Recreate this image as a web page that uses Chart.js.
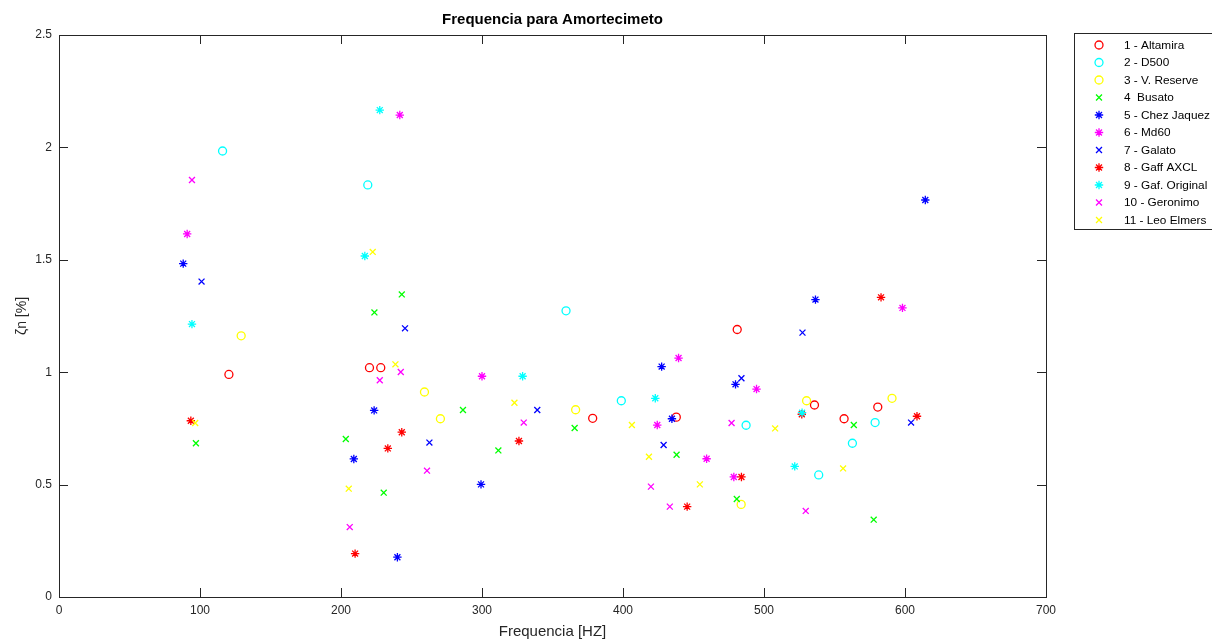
<!DOCTYPE html>
<html>
<head>
<meta charset="utf-8">
<title>Frequencia para Amortecimeto</title>
<style>
  html, body { margin: 0; padding: 0; background: #fff; }
  #wrap { position: relative; width: 1212px; height: 641px; }
</style>
<script src="https://cdn.jsdelivr.net/npm/chart.js@4.4.0/dist/chart.umd.min.js"></script>
</head>
<body>
<div id="wrap"><canvas id="chart" width="1212" height="641"></canvas></div>
<script>
// tick labels
const xTicks = [0, 100, 200, 300, 400, 500, 600, 700];
const yTicks = [0, 0.5, 1, 1.5, 2, 2.5];

// series values (frequency Hz, damping %)
const altamiraX = [120.5, 220.2, 228.2, 378.5, 437.8, 481, 535.8, 556.8, 580.7];
const altamiraY = [0.99, 1.02, 1.02, 0.795, 0.80, 1.19, 0.854, 0.793, 0.845];

const d500X = [116, 219, 359.6, 398.8, 487.3, 538.8, 562.7, 578.8];
const d500Y = [1.984, 1.833, 1.273, 0.873, 0.764, 0.543, 0.684, 0.776];

const vReserveX = [129.2, 259.2, 270.5, 366.4, 483.8, 530.2, 590.8];
const vReserveY = [1.162, 0.912, 0.793, 0.833, 0.412, 0.873, 0.884];

const busatoX = [97.1, 203.4, 223.7, 230.3, 243.1, 286.5, 311.6, 365.7, 438, 480.7, 563.7, 577.8];
const busatoY = [0.684, 0.703, 1.266, 0.464, 1.346, 0.832, 0.652, 0.752, 0.633, 0.436, 0.765, 0.344];

const chezX = [88.1, 209.1, 223.5, 240, 299.3, 427.4, 434.7, 479.8, 536.5, 614.4];
const chezY = [1.483, 0.614, 0.830, 0.177, 0.501, 1.025, 0.793, 0.946, 1.323, 1.766];

const md60X = [90.9, 241.7, 300, 424.3, 439.4, 459.3, 478.6, 494.7, 598.2];
const md60Y = [1.615, 2.144, 0.982, 0.765, 1.063, 0.615, 0.534, 0.925, 1.286];

const galatoX = [101.1, 245.4, 262.7, 339.2, 428.8, 484, 527.3, 604.3];
const galatoY = [1.403, 1.195, 0.687, 0.832, 0.676, 0.973, 1.176, 0.776];

const gaffX = [93.5, 210, 233.2, 243.1, 326.2, 445.5, 484, 526.8, 583, 608.5];
const gaffY = [0.784, 0.193, 0.661, 0.733, 0.694, 0.402, 0.534, 0.813, 1.333, 0.804];

const gafOrigX = [94.3, 216.9, 227.5, 328.8, 422.9, 521.8, 527];
const gafOrigY = [1.214, 1.517, 2.166, 0.982, 0.884, 0.581, 0.82];

const geronimoX = [94.3, 206.2, 227.5, 242.4, 261, 329.6, 419.8, 433.2, 477, 529.6];
const geronimoY = [1.855, 0.311, 0.964, 1.001, 0.562, 0.776, 0.491, 0.402, 0.774, 0.383];

const leoX = [96.6, 205.5, 222.5, 238.6, 323, 406.3, 418.4, 454.5, 507.9, 556.1];
const leoY = [0.774, 0.482, 1.535, 1.035, 0.864, 0.765, 0.624, 0.501, 0.750, 0.572];

const seriesNames = ['1 - Altamira', '2 - D500', '3 - V. Reserve', '4  Busato', '5 - Chez Jaquez',
  '6 - Md60', '7 - Galato', '8 - Gaff AXCL', '9 - Gaf. Original', '10 - Geronimo', '11 - Leo Elmers'];

const FONT = "'Liberation Sans', Arial, Helvetica, sans-serif";
const AXIS_COLOR = '#262626';

function pts(xs, ys) {
  return xs.map((v, i) => ({ x: v, y: ys[i] }));
}

function series(i, xs, ys, color, style) {
  return {
    label: seriesNames[i],
    data: pts(xs, ys),
    pointStyle: style,
    pointRadius: style === 'circle' ? 4 : 4.2,
    pointBorderWidth: style === 'circle' ? 1.3 : 1.3,
    pointBorderColor: color,
    pointBackgroundColor: 'rgba(0,0,0,0)',
    borderColor: color,
    showLine: false,
    order: 10 - i
  };
}

const datasets = [
  series(0, altamiraX, altamiraY, '#ff0000', 'circle'),
  series(1, d500X, d500Y, '#00ffff', 'circle'),
  series(2, vReserveX, vReserveY, '#ffff00', 'circle'),
  series(3, busatoX, busatoY, '#00ff00', 'crossRot'),
  series(4, chezX, chezY, '#0000ff', 'star'),
  series(5, md60X, md60Y, '#ff00ff', 'star'),
  series(6, galatoX, galatoY, '#0000ff', 'crossRot'),
  series(7, gaffX, gaffY, '#ff0000', 'star'),
  series(8, gafOrigX, gafOrigY, '#00ffff', 'star'),
  series(9, geronimoX, geronimoY, '#ff00ff', 'crossRot'),
  series(10, leoX, leoY, '#ffff00', 'crossRot')
];

// box round the axes with inward ticks on all four sides (matlab look)
const axesBox = {
  id: 'axesBox',
  beforeDatasetsDraw(chart) {
    const { ctx, chartArea: a, scales: { x, y } } = chart;
    const tl = 9;
    ctx.save();
    ctx.strokeStyle = AXIS_COLOR;
    ctx.lineWidth = 1;
    ctx.beginPath();
    xTicks.forEach(v => {
      const px = Math.round(x.getPixelForValue(v)) + 0.5;
      ctx.moveTo(px, a.bottom); ctx.lineTo(px, a.bottom - tl);
      ctx.moveTo(px, a.top); ctx.lineTo(px, a.top + tl);
    });
    yTicks.forEach(v => {
      const py = Math.round(y.getPixelForValue(v)) + 0.5;
      ctx.moveTo(a.left, py); ctx.lineTo(a.left + tl, py);
      ctx.moveTo(a.right, py); ctx.lineTo(a.right - tl, py);
    });
    ctx.stroke();
    ctx.strokeRect(Math.round(a.left) + 0.5, Math.round(a.top) + 0.5,
      Math.round(a.right - a.left), Math.round(a.bottom - a.top));
    ctx.restore();
  }
};

// legend box at the right, partly cut by the window edge
const boxLegend = {
  id: 'boxLegend',
  afterDraw(chart) {
    const ctx = chart.ctx;
    const left = 1074, top = 33, rowH = 17.5, first = 45;
    ctx.save();
    ctx.fillStyle = '#fff';
    ctx.fillRect(left, top, 160, 196);
    ctx.strokeStyle = AXIS_COLOR;
    ctx.lineWidth = 1;
    ctx.strokeRect(left + 0.5, top + 0.5, 160, 196);
    ctx.font = '11.8px ' + FONT;
    ctx.textBaseline = 'middle';
    ctx.textAlign = 'left';
    chart.data.datasets.forEach((ds, i) => {
      const cy = first + i * rowH;
      ctx.strokeStyle = ds.pointBorderColor;
      ctx.fillStyle = 'rgba(0,0,0,0)';
      ctx.lineWidth = ds.pointBorderWidth;
      Chart.helpers.drawPoint(ctx, {
        pointStyle: ds.pointStyle, radius: ds.pointRadius, rotation: 0, borderWidth: ds.pointBorderWidth
      }, 1099, cy);
      ctx.fillStyle = '#000';
      ctx.fillText(ds.label, 1124, cy + 0.5);
    });
    ctx.restore();
  }
};

new Chart(document.getElementById('chart'), {
  type: 'scatter',
  data: { datasets },
  options: {
    responsive: false,
    animation: false,
    events: [],
    layout: { padding: { left: 0, right: 166, top: 0, bottom: 0 } },
    plugins: {
      legend: { display: false },
      tooltip: { enabled: false },
      title: {
        display: true,
        fullSize: false,
        text: 'Frequencia para Amortecimeto',
        color: '#000',
        font: { family: FONT, size: 15, weight: 'bold', lineHeight: 1.2 },
        padding: { top: 11, bottom: 6 }
      }
    },
    scales: {
      x: {
        type: 'linear',
        min: 0, max: 700,
        afterBuildTicks: s => { s.ticks = xTicks.map(v => ({ value: v })); },
        afterFit: s => { s.height = 44; },
        grid: { display: false, drawTicks: false },
        border: { display: false },
        ticks: {
          padding: 6,
          maxRotation: 0,
          color: AXIS_COLOR,
          font: { family: FONT, size: 12 },
          callback: v => String(v)
        },
        title: {
          display: true,
          text: 'Frequencia [HZ]',
          color: AXIS_COLOR,
          font: { family: FONT, size: 15, lineHeight: 1.2 },
          padding: { top: 0, bottom: 0 }
        }
      },
      y: {
        type: 'linear',
        min: 0, max: 2.5,
        afterBuildTicks: s => { s.ticks = yTicks.map(v => ({ value: v })); },
        afterFit: s => { s.width = 59; },
        grid: { display: false, drawTicks: false },
        border: { display: false },
        ticks: {
          padding: 7,
          color: AXIS_COLOR,
          font: { family: FONT, size: 12 },
          callback: v => String(v)
        },
        title: {
          display: true,
          text: 'ζn [%]',
          color: AXIS_COLOR,
          font: { family: FONT, size: 14, lineHeight: 1.2 },
          padding: { top: 14, bottom: 0 }
        }
      }
    }
  },
  plugins: [axesBox, boxLegend]
});
</script>
</body>
</html>
